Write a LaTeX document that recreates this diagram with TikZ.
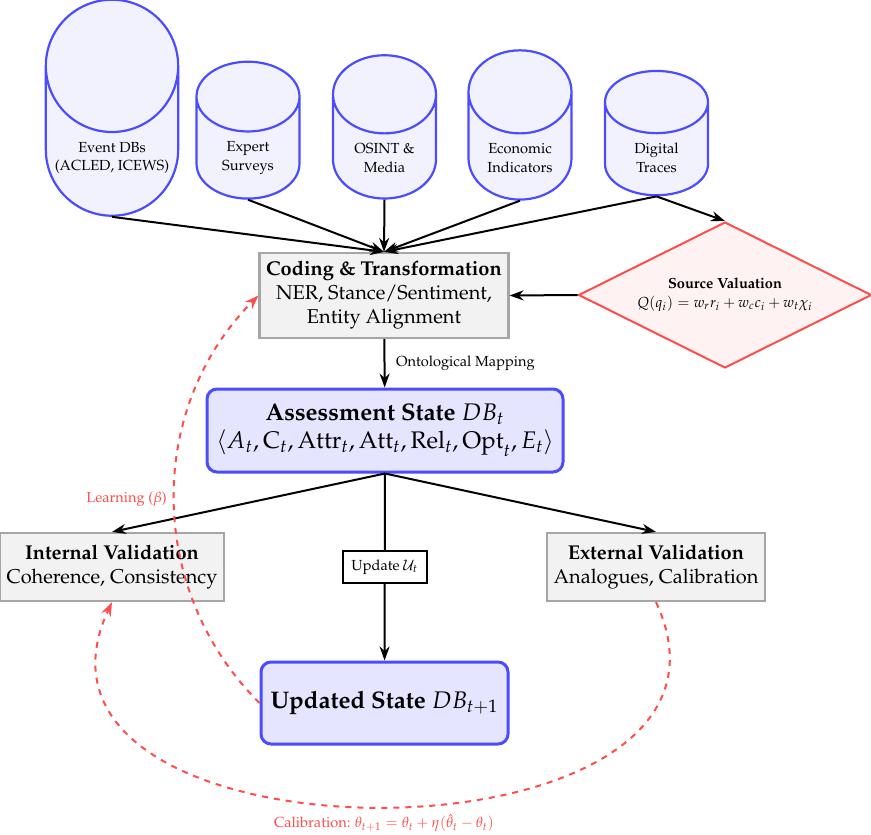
\documentclass[tikz,border=0pt]{standalone}
\usepackage[T1]{fontenc}
\usepackage{mathpazo}
\usetikzlibrary{shapes.geometric,arrows.meta}
\begin{document}
\begin{tikzpicture}%
	[x=0.5pt, y=-0.5pt,
	smallfont/.style={font=\fontsize{7.3}{9.3}\selectfont},
	source/.style={cylinder, shape border rotate=90, aspect=1, draw=blue!70, fill=blue!5, line width=1.1pt, align=center, smallfont, inner sep=4.5pt, minimum width=51.5pt},
	process/.style={rectangle, draw=gray!70, fill=gray!10, line width=1.1pt, align=center},
	state/.style={rectangle, rounded corners=5pt, draw=blue!70, fill=blue!10, line width=1.5pt, align=center, font=\large},
	valuation/.style={diamond, aspect=2, draw=red!70, fill=red!5, line width=1pt, align=center, smallfont, minimum width=146.5pt, minimum height=73pt},
	flow/.style={-{Stealth[length=7pt, width=5pt]}, line width=1pt},
	feedback/.style={-{Stealth[length=7pt, width=5pt]}, line width=1pt, dashed, red!70},
	steplabel/.style={rectangle, draw=black, fill=white, line width=0.8pt, smallfont, minimum width=42pt, minimum height=16pt},
	fblabel/.style={smallfont, text=red!70}]

\useasboundingbox (0,0) rectangle (871,834);

% data sources
\node[source] (events) at (112,158) {Event DBs\\(ACLED, ICEWS)};
\node[source] (surveys) at (248,158) {Expert\\Surveys};
\node[source] (osint) at (384.5,158) {OSINT \&\\Media};
\node[source] (econ) at (520,158) {Economic\\Indicators};
\node[source] (traces) at (656.5,158) {Digital\\Traces};

% processing chain
\node[process, minimum width=122.5pt, minimum height=42.5pt] (coding) at (384,295.5) {\textbf{Coding \& Transformation}\\NER, Stance/Sentiment,\\Entity Alignment};
\node[valuation] (valuation) at (725,295) {\textbf{Source Valuation}\\$Q(q_i) = w_r r_i + w_c c_i + w_t \chi_i$};
\node[state, minimum width=178pt, minimum height=41.5pt] (assess) at (385,430.5) {\textbf{Assessment State} $DB_t$\\$\langle A_t, \mathrm{C}_t, \mathrm{Attr}_t, \mathrm{Att}_t, \mathrm{Rel}_t, \mathrm{Opt}_t, E_t \rangle$};
\node[process, minimum width=110pt, minimum height=34pt] (internal) at (112,567) {\textbf{Internal Validation}\\Coherence, Consistency};
\node[process, minimum width=107pt, minimum height=34pt] (external) at (656,567) {\textbf{External Validation}\\Analogues, Calibration};
\node[state, minimum width=123.5pt, minimum height=41pt] (updated) at (384.5,703) {\textbf{Updated State} $DB_{t+1}$};

% ingestion
\foreach \src in {events, surveys, osint, econ, traces}
	\draw[flow] (\src.south) -- (coding.north);
\draw[flow] (traces.south) -- (valuation.north);
\draw[flow] (valuation.west) -- (coding.east);
\draw[flow] (coding) -- node[right, smallfont, xshift=2pt] {Ontological Mapping} (assess);

% validation and update
\draw[flow] (assess.south) -- (internal.north);
\draw[flow] (assess.south) -- (external.north);
\draw[flow] (assess) -- node[steplabel] {Update $\mathcal{U}_t$} (updated);

% feedback loops
\draw[feedback] (updated.west) to[bend left=45] node[midway, left, fblabel] {Learning ($\beta$)} (coding.west);
\draw[feedback] (external.south) to[out=-65, in=-115, looseness=1.42] node[midway, below, fblabel] {Calibration: $\theta_{t+1} = \theta_t + \eta(\hat{\theta}_t - \theta_t)$} (internal.south);
\end{tikzpicture}
\end{document}
